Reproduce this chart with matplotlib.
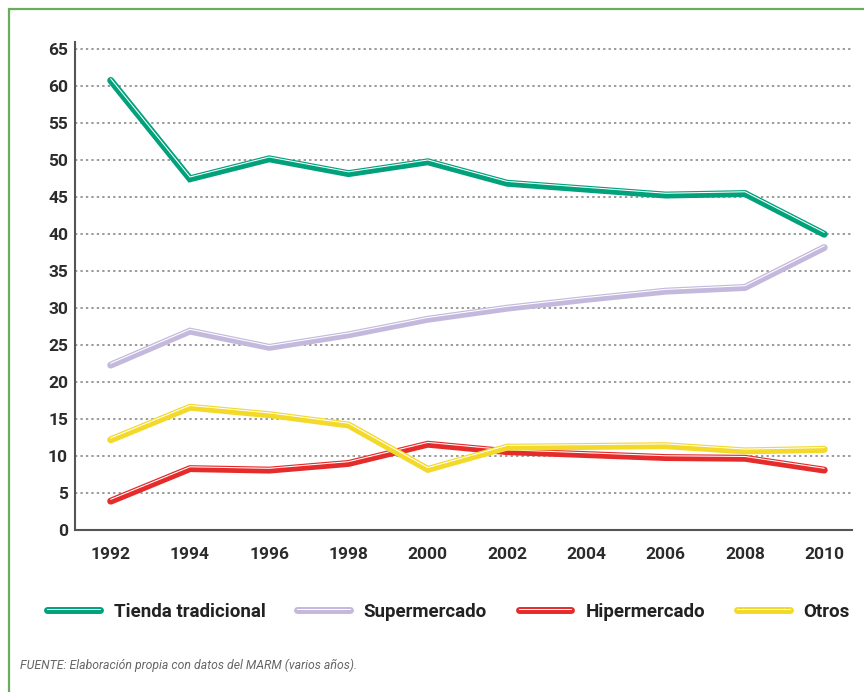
import matplotlib
matplotlib.use("Agg")
import matplotlib.pyplot as plt
import matplotlib.patheffects as pe
from matplotlib.patches import Rectangle

# datos (cuota de mercado, %)
years = [1992, 1994, 1996, 1998, 2000, 2002, 2004, 2006, 2008, 2010]
tienda = [60.8, 47.5, 50.2, 48.2, 49.8, 46.9, 46.1, 45.3, 45.5, 40.0]
super_ = [22.3, 26.9, 24.7, 26.4, 28.5, 30.0, 31.2, 32.3, 32.8, 38.2]
hiper = [3.9, 8.3, 8.1, 9.0, 11.6, 10.6, 10.2, 9.8, 9.7, 8.1]
otros = [12.2, 16.6, 15.6, 14.2, 8.2, 11.2, 11.3, 11.4, 10.7, 10.9]

series = [("Tienda tradicional", tienda, "#00a17b"),
          ("Supermercado", super_, "#c4b9dd"),
          ("Hipermercado", hiper, "#e62b2b"),
          ("Otros", otros, "#f3d92a")]

plt.rcParams['font.family'] = ['Roboto', 'DejaVu Sans']

fig = plt.figure(figsize=(8.64, 6.92), dpi=100)
ax = fig.add_axes([75 / 864, 1 - 530 / 692, (852 - 75) / 864, (530 - 42) / 692])

for name, vals, col in series:
    ax.plot(years, vals, color=col, lw=5.0, label=name,
            solid_capstyle='round', solid_joinstyle='miter',
            path_effects=[pe.Normal(),
                          pe.Stroke(offset=(0, 1.3), linewidth=0.75, foreground='white')])

ax.set_xlim(1991.1, 2010.7)
ax.set_ylim(0, 66)
ax.set_yticks(range(0, 66, 5))
ax.set_xticks(years)
ax.grid(axis='y', color='#9a9a9a', lw=1.4, linestyle=(0, (1.2, 1.6)))
ax.set_axisbelow(True)
for s in ['top', 'right']:
    ax.spines[s].set_visible(False)
for s in ['left', 'bottom']:
    ax.spines[s].set_color('#555555')
    ax.spines[s].set_linewidth(1.5)
ax.tick_params(length=0, labelsize=12.5, labelcolor='#2b2b2b')
ax.tick_params(axis='x', pad=12)
ax.tick_params(axis='y', pad=5)
for lab in ax.get_xticklabels() + ax.get_yticklabels():
    lab.set_fontweight('bold')

leg = fig.legend(loc='center', bbox_to_anchor=(47 / 864, 1 - 612 / 692, 803 / 864, 0),
                 mode='expand', ncol=4, frameon=False, borderpad=0, borderaxespad=0,
                 handlelength=2.8, handletextpad=0.75,
                 prop={'weight': 'bold', 'size': 13.5})
for t in leg.get_texts():
    t.set_color('#222222')

fig.text(20 / 864, 1 - 665 / 692,
         "FUENTE: Elaboración propia con datos del MARM (varios años).",
         fontsize=8.8, style='italic', color='#666666', va='center')

# marco verde
fig.patches.append(Rectangle((9 / 864, -0.1), 1.2, 1 - 9 / 692 + 0.1,
                             transform=fig.transFigure, fill=False,
                             edgecolor='#6bab5c', lw=1.6))

fig.savefig("out.png", dpi=100)
